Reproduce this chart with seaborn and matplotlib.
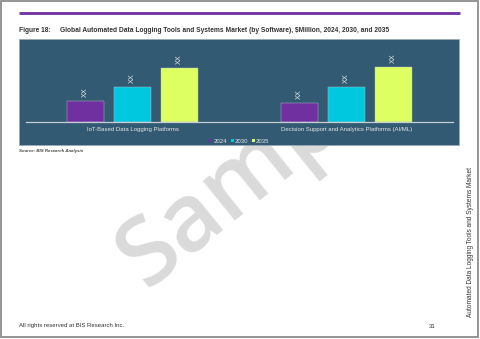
import matplotlib
matplotlib.use("Agg")
import matplotlib.pyplot as plt
import seaborn as sns
import pandas as pd
from matplotlib.patches import Rectangle

categories = ["IoT-Based Data Logging Platforms", "Decision Support and Analytics Platforms (AI/ML)"]
years = ["2024", "2030", "2035"]
values_2024 = [21, 19]
values_2030 = [35, 35]
values_2035 = [54, 55]
bar_labels = ["XX", "XX"]

colors = ["#7030A0", "#00C8DE", "#DDFF62"]
panel_color = "#325A72"

rows = []
for yr, vals in zip(years, [values_2024, values_2030, values_2035]):
    for c, v in zip(categories, vals):
        rows.append({"Category": c, "Year": yr, "Value": v})
df = pd.DataFrame(rows)

sns.set_theme(style="white")
plt.rcParams["font.family"] = ["Liberation Sans", "DejaVu Sans"]

W, H = 480, 339
fig = plt.figure(figsize=(W / 100, H / 100), dpi=100)

# page layer in pixel coordinates
pg = fig.add_axes([0, 0, 1, 1], zorder=0)
pg.set_xlim(0, W)
pg.set_ylim(H, 0)
pg.axis("off")

pg.add_patch(Rectangle((0.5, 0.5), W - 2.5, H - 2.5, fill=False, edgecolor="#8C8C8C", lw=1.3, zorder=5))
pg.plot([19, 460], [13.3, 13.3], color="#7030A0", lw=2.0, solid_capstyle="butt", zorder=3)

pg.text(146, 289, "Sample", rotation=39, rotation_mode="anchor", fontsize=68, color="#DADADA",
        fontweight="semibold", ha="left", va="baseline", family=["Open Sans", "DejaVu Sans"], zorder=1)

pg.add_patch(Rectangle((19, 39), 440, 106, facecolor=panel_color, edgecolor="#9AA9B5", lw=0.6, zorder=2))

pg.text(19, 30, "Figure 18:", fontsize=4.8, fontweight="bold", color="#333333", va="center", ha="left", zorder=3)
pg.text(60, 30, "Global Automated Data Logging Tools and Systems Market (by Software), $Million, 2024, 2030, and 2035",
        fontsize=4.8, fontweight="bold", color="#333333", va="center", ha="left", zorder=3)
pg.text(19, 151, "Source: BIS Research Analysis", fontsize=3.2, fontstyle="italic", fontweight="bold",
        color="#444444", va="center", ha="left", zorder=3)
pg.text(19, 326, "All rights reserved at BIS Research Inc.", fontsize=4.3, color="#333333",
        va="center", ha="left", zorder=3)
pg.text(432, 326, "31", fontsize=4.3, color="#333333", va="center", ha="center", zorder=3)
pg.text(470, 242, "Automated Data Logging Tools and Systems Market", rotation=90, fontsize=4.7,
        color="#333333", va="center", ha="center", zorder=3)

# chart axes
left, right, base, top = 26, 453, 122, 45
ax = fig.add_axes([left / W, 1 - base / H, (right - left) / W, (base - top) / H], zorder=2)
ax.patch.set_alpha(0)
sns.barplot(data=df, x="Category", y="Value", hue="Year", order=categories, hue_order=years,
            palette=colors, width=0.66, gap=0.21, ax=ax, saturation=1,
            edgecolor="#B8C6D0", linewidth=0.3)
ax.set_xlim(-0.5, 1.5)
ax.set_ylim(0, base - top)
for cont in ax.containers:
    ax.bar_label(cont, labels=bar_labels, rotation=90, padding=3, fontsize=5.2, color="#E8E8E8")
ax.set_xlabel("")
ax.set_ylabel("")
ax.set_yticks([])
ax.tick_params(axis="x", length=0, pad=3.5, labelsize=4.3, labelcolor="#E6E6E6")
for s in ["top", "left", "right"]:
    ax.spines[s].set_visible(False)
ax.spines["bottom"].set_color("#C8CED4")
ax.spines["bottom"].set_linewidth(0.9)

leg = ax.legend(loc="center", bbox_to_anchor=(0.5, -0.25), ncol=3, frameon=False,
                fontsize=4.3, handlelength=0.5, handleheight=0.5, handletextpad=0.2,
                columnspacing=0.6, borderaxespad=0)
for t in leg.get_texts():
    t.set_color("#E6E6E6")
for h in leg.legend_handles:
    h.set_edgecolor("none")

fig.savefig("out.png", dpi=100)
